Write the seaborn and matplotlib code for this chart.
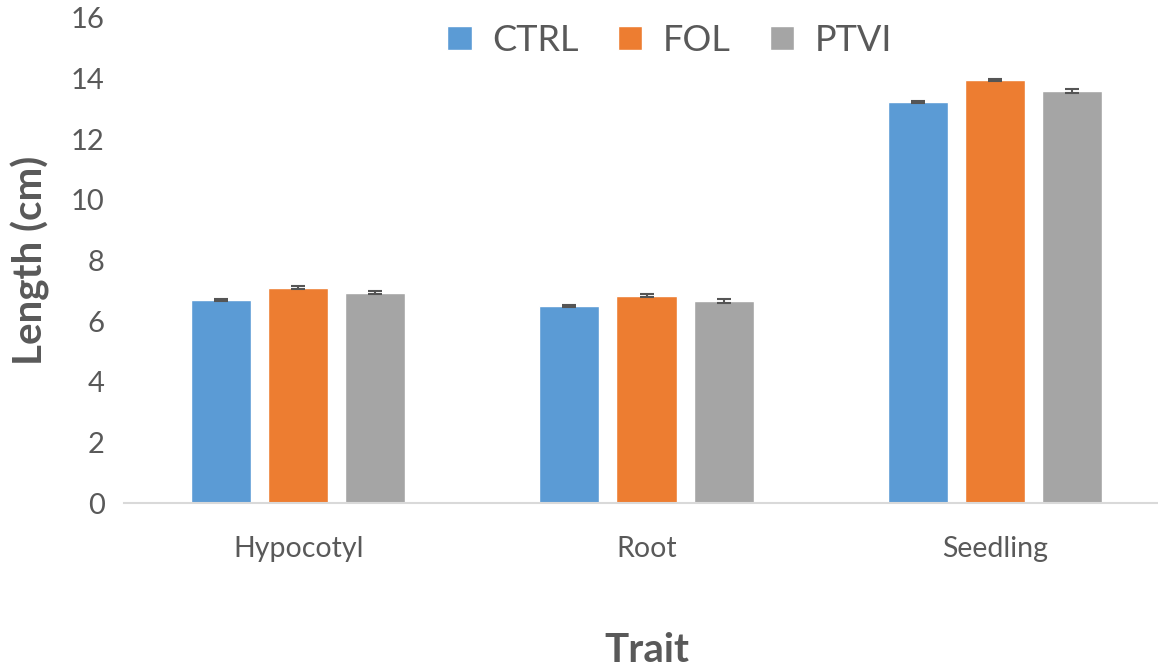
import pandas as pd
import matplotlib
matplotlib.use("Agg")
import matplotlib.pyplot as plt
import seaborn as sns

sns.set_style("white")
plt.rcParams["font.family"] = ["Lato", "DejaVu Sans"]

# Data
traits = ["Hypocotyl", "Root", "Seedling"]
treatments = ["CTRL", "FOL", "PTVI"]
ctrl_vals = [6.70, 6.50, 13.22]
fol_vals = [7.10, 6.84, 13.95]
ptvi_vals = [6.94, 6.67, 13.60]
ctrl_err = [0.03, 0.03, 0.03]
fol_err = [0.05, 0.05, 0.04]
ptvi_err = [0.06, 0.06, 0.06]
colors = ["#5B9BD5", "#ED7D31", "#A5A5A5"]

rows = []
for t, vals, errs in zip(treatments, [ctrl_vals, fol_vals, ptvi_vals], [ctrl_err, fol_err, ptvi_err]):
    for trait, v, e in zip(traits, vals, errs):
        rows.append({"Trait": trait, "Treatment": t, "Length": v, "err": e})
df = pd.DataFrame(rows)

text_color = "#595959"
fig = plt.figure(figsize=(11.58, 6.68), dpi=100)
ax = fig.add_axes([124 / 1158, 165 / 668, 1045 / 1158, 485 / 668])

sns.barplot(data=df, x="Trait", y="Length", hue="Treatment", order=traits,
            hue_order=treatments, palette=colors, width=0.664, gap=0.22,
            errorbar=None, ax=ax, saturation=1)

# error bars on top of each bar
for patch, (_, row) in zip(ax.patches, df.iterrows()):
    x = patch.get_x() + patch.get_width() / 2
    ax.errorbar(x, patch.get_height(), yerr=row["err"], color="#555555",
                capsize=5, elinewidth=1.5, capthick=1.5, fmt="none")

ax.set_xlim(-0.5, 2.5)
ax.set_ylim(0, 16)
ax.set_yticks(range(0, 17, 2))
for s in ["top", "right", "left"]:
    ax.spines[s].set_visible(False)
ax.spines["bottom"].set_color("#D9D9D9")
ax.spines["bottom"].set_linewidth(1.5)
ax.tick_params(axis="y", length=0, labelsize=21, colors=text_color, pad=14)
ax.tick_params(axis="x", length=0, labelsize=20.5, colors=text_color, pad=24)

ax.set_xlabel("Trait", fontsize=29, fontweight="bold", color=text_color)
ax.set_ylabel("Length (cm)", fontsize=29, fontweight="bold", color=text_color)
ax.xaxis.set_label_coords(0.5005, -0.266)
ax.yaxis.set_label_coords(-0.071, 0.5)

leg = ax.legend(loc="upper center", bbox_to_anchor=(0.5225, 1.055), ncol=3, frameon=False,
                fontsize=26, handlelength=0.67, handleheight=0.67, columnspacing=1.08,
                handletextpad=0.58)
for txt in leg.get_texts():
    txt.set_color(text_color)

fig.savefig("out.png", dpi=100)
